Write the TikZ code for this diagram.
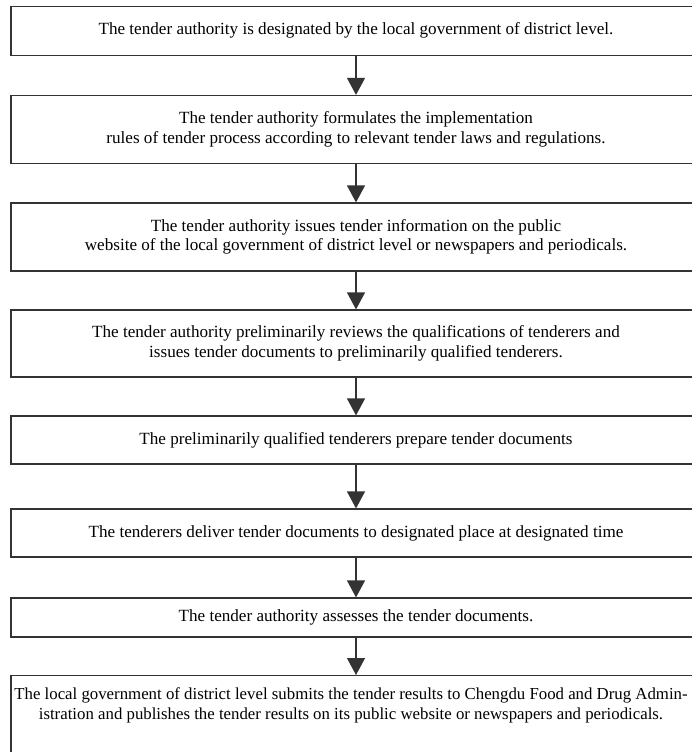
\documentclass[tikz,border=0pt]{standalone}
\usepackage{fontspec}
\setmainfont{Liberation Serif}
\usetikzlibrary{arrows.meta}
\begin{document}
\begin{tikzpicture}[x=1pt,y=-1pt,
  box/.style={draw=black!80, line width=1.2pt, minimum width=690pt, inner sep=0pt,
    align=center, font=\fontsize{17.1}{19.5}\selectfont},
  txt/.style={align=center, inner sep=0pt, font=\fontsize{16.8}{19.5}\selectfont},
  arr/.style={draw=black!80, line width=1.2pt, -{Triangle[width=18pt,length=17pt]}}]
\useasboundingbox (0,0) rectangle (691,752);
\node[box, minimum height=49pt] (b1) at (356,30.8) {The tender authority is designated by the local government of district level.};
\node[box, minimum height=68pt] (b2) at (356,129.5) {The tender authority formulates the implementation\\rules of tender process according to relevant tender laws and regulations.};
\node[box, minimum height=68pt] (b3) at (356,237) {The tender authority issues tender information on the public\\website of the local government of district level or newspapers and periodicals.};
\node[box, minimum height=67pt] (b4) at (356,343.5) {The tender authority preliminarily reviews the qualifications of tenderers and\\issues tender documents to preliminarily qualified tenderers.};
\node[box, minimum height=48pt] (b5) at (356,440) {The preliminarily qualified tenderers prepare tender documents};
\node[box, minimum height=48pt] (b6) at (356,533) {The tenderers deliver tender documents to designated place at designated time};
\node[box, minimum height=39pt] (b7) at (356,617.5) {The tender authority assesses the tender documents.};
\node[box, minimum height=90pt, anchor=north] (b8) at (356,675) {};
\node[txt] (t8) at (351,705.5) {The local government of district level submits the tender results to Chengdu Food and Drug Admin-\\istration and publishes the tender results on its public website or newspapers and periodicals.};
\draw[arr] (b1) -- (b2);
\draw[arr] (b2) -- (b3);
\draw[arr] (b3) -- (b4);
\draw[arr] (b4) -- (b5);
\draw[arr] (b5) -- (b6);
\draw[arr] (b6) -- (b7);
\draw[arr] (b7) -- (b8);
\end{tikzpicture}
\end{document}
